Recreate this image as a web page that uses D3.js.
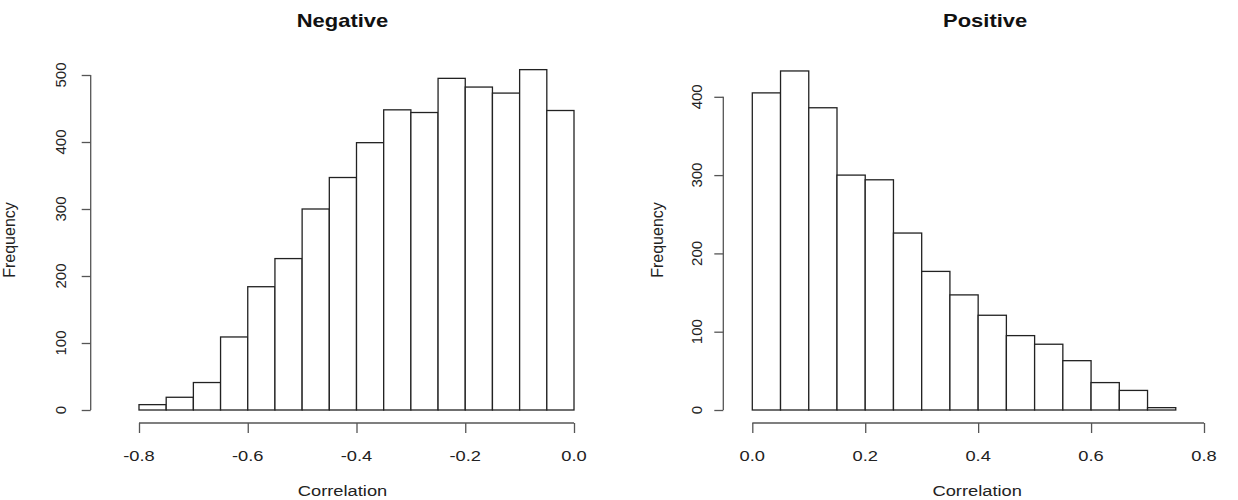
<!DOCTYPE html>
<html>
<head>
<meta charset="utf-8">
<script src="https://cdn.jsdelivr.net/npm/d3@7"></script>
<style>
  body { margin: 0; background: #fff; }
  svg { display: block; }
  text { font-family: "Liberation Sans", Arial, sans-serif; fill: #222; }
</style>
</head>
<body>
<svg id="chart" width="1238" height="500"></svg>
<script>
// Histogram counts
const negBins = [-0.8, -0.75, -0.7, -0.65, -0.6, -0.55, -0.5, -0.45, -0.4, -0.35, -0.3, -0.25, -0.2, -0.15, -0.1, -0.05];
const negCounts = [8, 19, 41, 109, 184, 226, 300, 347, 399, 448, 444, 495, 482, 473, 508, 447];

const posBins = [0, 0.05, 0.1, 0.15, 0.2, 0.25, 0.3, 0.35, 0.4, 0.45, 0.5, 0.55, 0.6, 0.65, 0.7];
const posCounts = [405, 433, 386, 300, 294, 226, 177, 147, 121, 95, 84, 63, 35, 25, 3];

const binWidth = 0.05;

const negXTicks = [-0.8, -0.6, -0.4, -0.2, 0.0];
const negYTicks = [0, 100, 200, 300, 400, 500];
const posXTicks = [0.0, 0.2, 0.4, 0.6, 0.8];
const posYTicks = [0, 100, 200, 300, 400];

const svg = d3.select("#chart");

// the reference is stretched sideways a bit, so horizontal text gets squashed wider
const SX = 1.22;

function hText(g, x, y, str, size, bold) {
    g.append("text")
        .attr("transform", `translate(${x},${y}) scale(${SX},1)`)
        .attr("text-anchor", "middle")
        .style("font-size", size + "px")
        .style("font-weight", bold ? "bold" : "normal")
        .style("fill", bold ? "#111" : "#222")
        .text(str);
}

function vText(g, x, y, str, size) {
    g.append("text")
        .attr("transform", `translate(${x},${y}) rotate(-90)`)
        .attr("text-anchor", "middle")
        .style("font-size", size + "px")
        .text(str);
}

/**
 * Draw one R-style histogram panel
 */
function drawPanel(opt) {
    const g = svg.append("g");

    const x = d3.scaleLinear().domain(opt.xDomain).range(opt.xRange);
    const y = d3.scaleLinear().domain([0, opt.yMax]).range([410, 410 - opt.yMax * opt.yPx]);

    // bars
    g.selectAll("rect.bar")
        .data(opt.bins.map((b, i) => ({ x0: b, x1: b + binWidth, n: opt.counts[i] })))
        .enter()
        .append("rect")
        .attr("class", "bar")
        .attr("x", d => x(d.x0))
        .attr("y", d => y(d.n))
        .attr("width", d => x(d.x1) - x(d.x0))
        .attr("height", d => y(0) - y(d.n))
        .attr("fill", "#fff")
        .attr("stroke", "#222")
        .attr("stroke-width", 1.3);

    // x axis, R style (detached, line from first to last tick)
    const xAxis = g.append("g").attr("transform", "translate(0,423)");
    xAxis.call(d3.axisBottom(x).tickValues(opt.xTicks).tickSize(10).tickFormat(() => ""));
    xAxis.select(".domain")
        .attr("d", `M${x(opt.xTicks[0])},0H${x(opt.xTicks[opt.xTicks.length - 1])}`)
        .attr("stroke", "#555").attr("stroke-width", 1.3);
    xAxis.selectAll(".tick line").attr("stroke", "#555").attr("stroke-width", 1.3);
    opt.xTicks.forEach(t => hText(g, x(t), 461, d3.format(".1f")(t).replace("\u2212", "-"), 15));

    // y axis
    const yAxis = g.append("g").attr("transform", `translate(${opt.yAxisX},0)`);
    yAxis.call(d3.axisLeft(y).tickValues(opt.yTicks).tickSize(9).tickFormat(() => ""));
    yAxis.select(".domain")
        .attr("d", `M0,${y(opt.yTicks[0])}V${y(opt.yTicks[opt.yTicks.length - 1])}`)
        .attr("stroke", "#555").attr("stroke-width", 1.3);
    yAxis.selectAll(".tick line").attr("stroke", "#555").attr("stroke-width", 1.3);
    opt.yTicks.forEach(t => vText(g, opt.yLabelX, y(t), String(t), 15));

    // titles and labels
    const mid = (opt.xRange[0] + opt.xRange[1]) / 2;
    hText(g, mid + opt.titleShift, 27, opt.title, 18, true);
    hText(g, mid + opt.labelShift, 496, "Correlation", 15);
    vText(g, opt.freqX, 240, "Frequency", 16);
}

drawPanel({
    title: "Negative",
    bins: negBins,
    counts: negCounts,
    xDomain: [-0.8, 0],
    xRange: [139, 574],
    yMax: 500,
    yPx: 0.67,
    xTicks: negXTicks,
    yTicks: negYTicks,
    yAxisX: 90.7,
    yLabelX: 66,
    freqX: 15,
    titleShift: -14,
    labelShift: -14
});

drawPanel({
    title: "Positive",
    bins: posBins,
    counts: posCounts,
    xDomain: [0, 0.8],
    xRange: [752.3, 1204],
    yMax: 400,
    yPx: 0.783,
    xTicks: posXTicks,
    yTicks: posYTicks,
    yAxisX: 723.3,
    yLabelX: 702,
    freqX: 663,
    titleShift: 7,
    labelShift: -1
});
</script>
</body>
</html>
